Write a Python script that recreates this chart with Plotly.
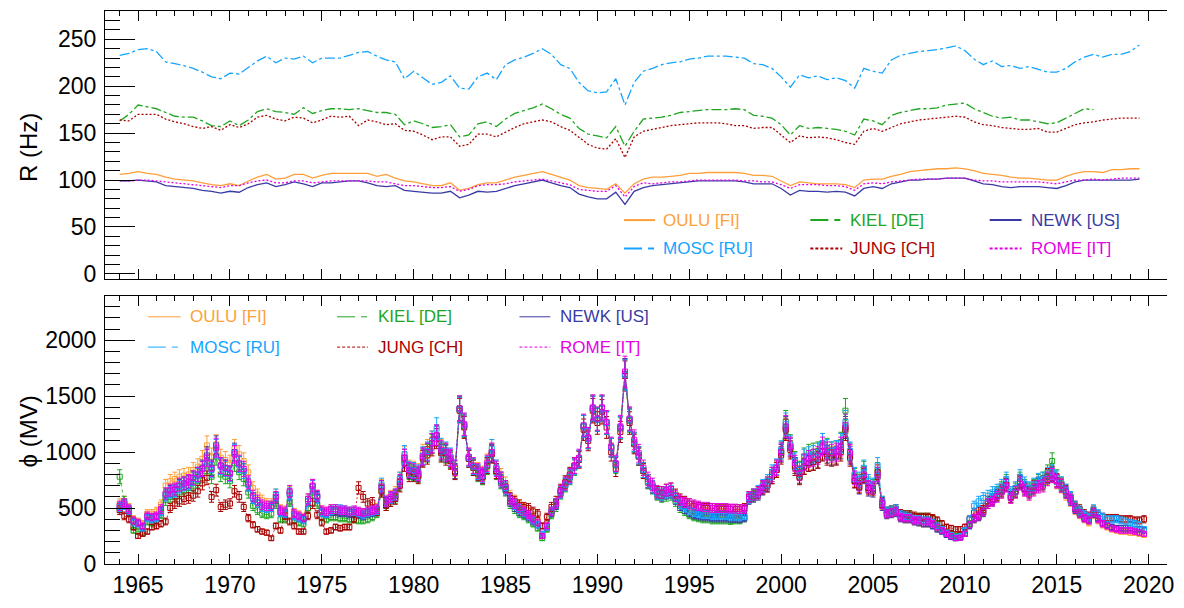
import plotly.graph_objects as go

# ---------------- data ----------------
stations = ["OULU [FI]", "KIEL [DE]", "NEWK [US]", "MOSC [RU]", "JUNG [CH]", "ROME [IT]"]

years_top = [1964 + 0.5 * i for i in range(112)]
years_bot = [1964 + 0.25 * i for i in range(224)]

r_oulu = [106, 107, 109, 107, 106, 103, 101, 100, 99, 97, 95, 94, 96, 94, 99, 103, 106, 101, 102, 106,
          106, 102, 105, 107, 107, 107, 107, 107, 104, 106, 102, 99, 98, 96, 94, 94, 97, 89, 91, 95,
          97, 97, 100, 103, 105, 107, 109, 106, 103, 100, 94, 92, 91, 90, 96, 86, 96, 101, 103, 103,
          104, 105, 107, 107, 108, 108, 108, 108, 107, 105, 105, 104, 99, 94, 98, 97, 96, 96, 96, 95,
          92, 100, 101, 101, 104, 106, 109, 110, 111, 112, 112, 113, 112, 110, 107, 106, 105, 103, 102, 102,
          101, 100, 100, 104, 107, 109, 109, 108, 111, 111, 112, 112]
r_kiel = [163, 170, 180, 178, 176, 172, 168, 167, 167, 163, 158, 157, 163, 158, 164, 173, 176, 173, 172, 170,
          177, 171, 174, 176, 176, 175, 176, 174, 172, 172, 170, 159, 163, 160, 156, 157, 159, 146, 148, 160,
          162, 157, 165, 171, 174, 177, 181, 176, 170, 166, 155, 149, 147, 145, 157, 136, 152, 165, 166, 167,
          169, 172, 173, 174, 175, 175, 175, 176, 175, 169, 168, 166, 159, 148, 158, 155, 156, 155, 154, 152,
          148, 165, 163, 159, 169, 172, 174, 176, 176, 177, 180, 181, 182, 176, 172, 168, 166, 167, 164, 164,
          162, 160, 161, 166, 171, 176, 175]
r_newk = [99, 99, 100, 99, 98, 94, 93, 92, 91, 89, 88, 86, 88, 87, 92, 95, 97, 93, 95, 98,
          96, 93, 97, 97, 98, 99, 99, 97, 94, 93, 94, 89, 88, 87, 86, 86, 88, 81, 84, 88,
          87, 88, 91, 94, 96, 98, 100, 97, 94, 92, 85, 82, 80, 80, 87, 74, 88, 92, 94, 95,
          96, 97, 98, 99, 99, 99, 99, 99, 98, 96, 96, 96, 91, 84, 89, 88, 88, 87, 88, 87,
          83, 91, 93, 91, 96, 98, 100, 100, 101, 101, 102, 102, 102, 99, 96, 95, 93, 92, 93, 93,
          93, 92, 91, 94, 98, 100, 100, 100, 100, 100, 100, 101]
r_mosc = [233, 235, 239, 240, 237, 226, 224, 222, 219, 215, 210, 208, 214, 213, 220, 227, 232, 225, 230, 229,
          232, 225, 230, 230, 230, 233, 236, 237, 232, 228, 226, 208, 216, 209, 202, 204, 211, 198, 197, 210,
          214, 207, 223, 228, 231, 235, 240, 234, 223, 219, 204, 195, 193, 194, 208, 180, 204, 216, 219, 223,
          225, 226, 229, 230, 232, 232, 232, 231, 230, 224, 223, 219, 210, 199, 212, 209, 211, 207, 209, 206,
          198, 219, 216, 214, 228, 233, 235, 237, 238, 239, 241, 243, 238, 229, 223, 227, 221, 222, 219, 221,
          218, 215, 215, 219, 226, 231, 234, 231, 234, 234, 237, 244]
r_jung = [164, 163, 170, 170, 170, 165, 162, 160, 157, 155, 157, 153, 159, 156, 160, 167, 169, 165, 163, 167,
          166, 161, 164, 168, 167, 168, 158, 164, 162, 159, 160, 153, 152, 148, 143, 146, 146, 136, 138, 149,
          149, 146, 151, 156, 160, 162, 164, 162, 157, 153, 145, 138, 134, 133, 144, 124, 146, 152, 154, 156,
          158, 159, 160, 161, 161, 161, 160, 158, 158, 155, 156, 156, 148, 140, 147, 145, 146, 145, 143, 140,
          138, 152, 155, 152, 156, 160, 162, 164, 165, 166, 167, 168, 167, 162, 159, 158, 156, 155, 154, 154,
          155, 151, 151, 155, 159, 161, 162, 164, 165, 166, 166, 166]
r_rome = [99, 99, 100, 100, 99, 98, 97, 96, 95, 94, 93, 92, 94, 94, 97, 99, 100, 97, 97, 99,
          99, 97, 98, 99, 99, 99, 99, 99, 98, 98, 96, 94, 94, 93, 92, 92, 93, 88, 90, 94,
          95, 95, 96, 98, 99, 100, 101, 99, 97, 95, 90, 89, 88, 88, 94, 82, 93, 97, 96, 97,
          98, 98, 99, 100, 100, 100, 100, 100, 99, 99, 98, 98, 95, 91, 95, 95, 95, 94, 94, 93,
          89, 96, 97, 96, 98, 99, 100, 101, 101, 101, 102, 102, 102, 100, 99, 99, 98, 98, 98, 98,
          98, 97, 96, 98, 100, 100, 101, 100, 101, 102, 102, 102]

phi_oulu = [540, 560, 500, 400, 380, 360, 450, 450, 470, 530, 700, 740, 760, 780, 790, 800,
            840, 870, 940, 1060, 960, 1070, 950, 930, 900, 1030, 980, 920, 820, 680, 620, 570,
            540, 540, 620, 490, 480, 640, 460, 440, 420, 580, 700, 610, 480, 470, 490, 490,
            480, 480, 470, 470, 460, 450, 460, 480, 500, 700, 570, 610, 640, 760, 970, 860,
            850, 830, 990, 1030, 1100, 1150, 1030, 1000, 950, 850, 1390, 1240, 950, 880, 840, 810,
            910, 1000, 860, 790, 720, 610, 570, 530, 500, 470, 430, 390, 260, 350, 470, 540,
            650, 720, 790, 870, 940, 1230, 1130, 1390, 1290, 1390, 1260, 1040, 890, 1220, 1700, 1290,
            1090, 970, 840, 740, 690, 630, 620, 640, 650, 590, 550, 520, 500, 490, 480, 470,
            470, 460, 460, 460, 460, 455, 450, 450, 460, 590, 610, 630, 680, 710, 780, 850,
            990, 1210, 1040, 880, 790, 880, 910, 920, 940, 1020, 980, 970, 980, 1030, 1220, 980,
            750, 690, 790, 670, 660, 780, 530, 440, 450, 460, 410, 400, 400, 380, 370, 360,
            360, 350, 320, 300, 270, 250, 240, 240, 270, 350, 400, 420, 460, 540, 570, 610,
            640, 700, 590, 640, 720, 660, 630, 670, 700, 710, 770, 790, 730, 690, 620, 560,
            480, 440, 400, 370, 440, 390, 350, 330, 310, 300, 290, 290, 280, 280, 270, 260]
phi_kiel = [780, 560, 460, 300, 290, 280, 380, 370, 380, 440, 570, 600, 600, 640, 660, 680,
            700, 740, 790, 880, 780, 960, 800, 780, 740, 900, 820, 760, 640, 520, 480, 450,
            440, 450, 540, 400, 400, 560, 390, 370, 360, 500, 640, 540, 420, 400, 420, 420,
            410, 410, 400, 400, 390, 390, 400, 420, 450, 650, 520, 560, 590, 710, 930, 820,
            810, 790, 950, 990, 1070, 1140, 1000, 980, 930, 830, 1380, 1230, 940, 860, 800, 770,
            870, 990, 820, 730, 660, 540, 490, 450, 430, 400, 360, 320, 230, 310, 440, 510,
            630, 700, 770, 860, 940, 1230, 1120, 1390, 1290, 1390, 1260, 1040, 880, 1210, 1690, 1280,
            1080, 960, 830, 730, 680, 620, 600, 610, 620, 560, 500, 470, 440, 420, 410, 400,
            400, 390, 390, 390, 390, 385, 390, 390, 410, 590, 610, 640, 690, 720, 800, 860,
            1010, 1270, 1070, 930, 850, 960, 990, 1000, 1010, 1080, 1040, 1010, 1020, 1090, 1370, 1000,
            790, 740, 850, 720, 700, 840, 560, 470, 480, 490, 450, 440, 440, 420, 420, 420,
            420, 400, 360, 320, 290, 270, 250, 260, 300, 360, 410, 440, 480, 560, 600, 640,
            680, 740, 620, 670, 760, 700, 670, 700, 740, 760, 820, 920, 780, 720, 660, 590,
            510, 470, 430, 410, 470]
phi_newk = [500, 530, 480, 380, 360, 330, 420, 410, 420, 470, 620, 650, 660, 700, 720, 730,
            770, 800, 860, 970, 860, 1060, 880, 860, 810, 1000, 890, 830, 710, 590, 550, 510,
            500, 510, 590, 460, 450, 620, 430, 410, 400, 560, 690, 600, 460, 450, 470, 470,
            460, 460, 450, 450, 440, 430, 450, 460, 470, 690, 550, 590, 610, 730, 950, 830,
            820, 800, 960, 1000, 1080, 1150, 1010, 990, 940, 830, 1390, 1240, 950, 870, 820, 780,
            880, 990, 830, 740, 670, 560, 510, 470, 450, 420, 380, 350, 250, 330, 460, 530,
            640, 710, 780, 870, 940, 1230, 1120, 1390, 1290, 1390, 1260, 1040, 890, 1220, 1700, 1290,
            1090, 970, 840, 740, 690, 630, 610, 630, 640, 580, 520, 490, 460, 440, 430, 420,
            420, 410, 410, 410, 410, 405, 405, 400, 410, 580, 600, 620, 670, 700, 780, 840,
            990, 1220, 1040, 880, 780, 870, 900, 910, 930, 1010, 980, 960, 970, 1020, 1220, 970,
            740, 680, 780, 660, 650, 780, 520, 440, 450, 460, 410, 400, 400, 380, 370, 360,
            360, 340, 310, 290, 260, 240, 230, 235, 270, 340, 400, 420, 460, 540, 570, 610,
            650, 710, 600, 650, 730, 670, 640, 680, 710, 720, 780, 800, 740, 700, 640, 570,
            490, 450, 410, 390, 450, 410, 370, 350, 330, 320, 320, 320, 320, 310, 310, 300]
phi_mosc = [510, 530, 480, 370, 360, 320, 410, 400, 410, 470, 610, 640, 650, 690, 710, 720,
            760, 790, 850, 950, 840, 1030, 870, 850, 800, 990, 890, 830, 710, 590, 550, 510,
            500, 510, 620, 460, 450, 630, 430, 410, 390, 560, 690, 590, 460, 450, 480, 490,
            490, 480, 470, 470, 460, 440, 460, 470, 480, 710, 560, 590, 620, 760, 980, 850,
            840, 820, 970, 1010, 1100, 1210, 1040, 1010, 960, 860, 1380, 1240, 950, 870, 820, 790,
            890, 1030, 860, 760, 680, 580, 530, 490, 460, 430, 390, 350, 270, 330, 470, 540,
            640, 710, 780, 870, 940, 1230, 1120, 1390, 1290, 1390, 1260, 1040, 890, 1220, 1690, 1290,
            1090, 970, 840, 740, 690, 630, 620, 640, 650, 590, 540, 510, 480, 460, 450, 440,
            440, 430, 430, 430, 430, 425, 425, 420, 430, 590, 620, 650, 700, 740, 820, 870,
            1020, 1250, 1060, 920, 840, 950, 970, 980, 1000, 1080, 1030, 1010, 1020, 1080, 1270, 1010,
            800, 760, 860, 740, 710, 880, 560, 470, 480, 490, 440, 430, 420, 400, 400, 390,
            390, 370, 340, 310, 280, 260, 240, 250, 300, 400, 520, 560, 590, 610, 640, 660,
            700, 760, 640, 680, 780, 720, 680, 710, 750, 760, 800, 820, 770, 720, 660, 600,
            520, 480, 440, 420, 490, 450, 420, 400, 400, 400, 390, 380, 370, 360, 350, 310]
phi_jung = [480, 430, 400, 330, 250, 270, 290, 330, 340, 360, 380, 500, 540, 560, 580, 590,
            610, 650, 720, 770, 600, 660, 510, 530, 540, 650, 600, 510, 410, 350, 310, 290,
            280, 230, 340, 300, 430, 380, 340, 290, 290, 430, 540, 440, 370, 290, 300, 330,
            320, 330, 330, 400, 680, 600, 540, 550, 470, 650, 520, 560, 580, 700, 900, 800,
            800, 780, 940, 970, 1050, 1120, 990, 960, 920, 820, 1370, 1220, 940, 860, 810, 780,
            880, 980, 830, 760, 690, 590, 560, 530, 510, 500, 470, 450, 340, 420, 510, 560,
            660, 730, 800, 880, 930, 1200, 1100, 1370, 1260, 1360, 1220, 1000, 850, 1180, 1680, 1260,
            1070, 960, 830, 740, 690, 640, 640, 660, 670, 620, 580, 560, 540, 520, 510, 500,
            500, 500, 490, 490, 490, 490, 490, 490, 500, 600, 620, 640, 680, 700, 780, 840,
            970, 1200, 1020, 860, 770, 870, 900, 910, 930, 1000, 960, 950, 960, 1000, 1200, 950,
            740, 690, 790, 680, 670, 820, 550, 470, 480, 490, 450, 440, 440, 430, 420, 420,
            420, 410, 390, 360, 330, 320, 310, 310, 330, 400, 460, 480, 500, 560, 580, 620,
            660, 710, 600, 650, 740, 680, 650, 690, 720, 730, 790, 810, 750, 710, 650, 600,
            520, 490, 450, 430, 480, 440, 420, 410, 410, 410, 400, 400, 400, 390, 390, 400]
phi_rome = [520, 540, 490, 390, 370, 340, 430, 420, 430, 490, 630, 660, 670, 710, 720, 740,
            770, 800, 850, 950, 850, 1040, 880, 860, 810, 980, 900, 850, 730, 610, 570, 530,
            520, 520, 600, 480, 470, 650, 450, 430, 410, 580, 700, 610, 480, 470, 490, 490,
            480, 480, 470, 480, 470, 460, 470, 480, 490, 690, 560, 600, 620, 740, 950, 840,
            830, 810, 960, 1000, 1080, 1150, 1020, 1000, 950, 860, 1390, 1250, 960, 880, 830, 800,
            900, 1000, 850, 760, 690, 580, 540, 500, 470, 440, 400, 370, 250, 340, 470, 540,
            650, 720, 790, 880, 950, 1240, 1130, 1400, 1300, 1400, 1270, 1050, 900, 1230, 1720, 1300,
            1110, 990, 860, 760, 710, 650, 640, 660, 670, 610, 570, 550, 540, 530, 520, 510,
            510, 500, 500, 500, 500, 495, 495, 490, 490, 600, 620, 640, 690, 720, 800, 860,
            1000, 1230, 1050, 900, 810, 910, 940, 950, 970, 1050, 1010, 990, 1000, 1050, 1240, 990,
            770, 710, 800, 690, 680, 800, 540, 450, 460, 470, 420, 410, 410, 390, 390, 380,
            380, 360, 330, 300, 270, 250, 230, 235, 270, 350, 410, 430, 470, 540, 560, 600,
            640, 700, 590, 640, 720, 660, 620, 660, 690, 700, 760, 790, 740, 700, 640, 580,
            500, 450, 410, 390, 460, 400, 360, 340, 320, 310, 300, 300, 300, 290, 280, 270]

# ---------------- styles ----------------
colors = {"OULU [FI]": "#FF9F3A", "KIEL [DE]": "#1FA51F", "NEWK [US]": "#3A3AA6",
          "MOSC [RU]": "#16A4FF", "JUNG [CH]": "#A80000", "ROME [IT]": "#E400E4"}
dashes = {"OULU [FI]": "solid", "KIEL [DE]": "10px,3px,3px,3px", "NEWK [US]": "solid",
          "MOSC [RU]": "10px,3px,3px,3px", "JUNG [CH]": "2px,2px", "ROME [IT]": "2px,2px"}
legend_dashes = {"OULU [FI]": "solid", "KIEL [DE]": "18px,6px,6px,60px", "NEWK [US]": "solid",
                 "MOSC [RU]": "18px,6px,6px,60px", "JUNG [CH]": "3px,2px", "ROME [IT]": "3px,2px"}

top_data = {"OULU [FI]": r_oulu, "KIEL [DE]": r_kiel, "NEWK [US]": r_newk,
            "MOSC [RU]": r_mosc, "JUNG [CH]": r_jung, "ROME [IT]": r_rome}
bot_data = {"OULU [FI]": phi_oulu, "KIEL [DE]": phi_kiel, "NEWK [US]": phi_newk,
            "JUNG [CH]": phi_jung, "MOSC [RU]": phi_mosc, "ROME [IT]": phi_rome}

fig = go.Figure()

for name, vals in top_data.items():
    fig.add_trace(go.Scatter(x=years_top[:len(vals)], y=vals, mode="lines", name=name,
                             line=dict(color=colors[name], width=1.3, dash=dashes[name]),
                             showlegend=False, xaxis="x", yaxis="y"))

for name, vals in bot_data.items():
    fig.add_trace(go.Scatter(x=years_bot[:len(vals)], y=vals, mode="lines+markers", name=name,
                             line=dict(color=colors[name], width=0.8, dash=dashes[name]),
                             marker=dict(symbol="square-open", size=5, color=colors[name],
                                         line=dict(width=1, color=colors[name])),
                             error_y=dict(type="percent", value=8, color=colors[name],
                                          thickness=1, width=2.5),
                             showlegend=False, xaxis="x2", yaxis="y2"))

# ---------------- layout ----------------
W, H = 1184, 608
L, R, T, B = 105, 13, 10, 32
PW, PH = W - L - R, H - T - B


def px(xp):
    return (xp - L) / PW


def py(yp):
    return (H - B - yp) / PH


top_dom = [py(284), 1.0]
bot_dom = [0.0, py(301.7)]

font_fam = "Liberation Sans, Arial, Helvetica, sans-serif"
xcommon = dict(range=[1963.2, 2021.0], tick0=1965, dtick=5, ticks="inside", ticklen=10,
               tickwidth=1, tickcolor="black", showline=True, linecolor="black", linewidth=1,
               mirror="ticks", showgrid=False, zeroline=False,
               minor=dict(dtick=1, ticks="inside", ticklen=5, tickcolor="black", showgrid=False),
               tickfont=dict(family=font_fam, size=23, color="black"))

ycommon = dict(ticks="inside", ticklen=30, tickwidth=1, tickcolor="black", showline=True,
               linecolor="black", linewidth=1, showgrid=False, zeroline=False,
               ticklabelstandoff=3,
               tickfont=dict(family=font_fam, size=23, color="black"))
yright = dict(ticks="inside", ticklen=17, tickwidth=1, tickcolor="black", showline=True,
              linecolor="black", linewidth=1, showgrid=False, zeroline=False,
              showticklabels=False, side="right")

fig.update_layout(
    width=W, height=H, margin=dict(l=L, r=R, t=T, b=B),
    paper_bgcolor="white", plot_bgcolor="white", showlegend=False,
    xaxis=dict(xcommon, domain=[0, 1], anchor="y", showticklabels=False, matches="x2"),
    xaxis2=dict(xcommon, domain=[0, 1], anchor="y2", showticklabels=True),
    yaxis=dict(ycommon, domain=top_dom, anchor="x", range=[-5.2, 280.2], tick0=0, dtick=50,
               minor=dict(dtick=10, ticks="inside", ticklen=15, tickcolor="black", showgrid=False)),
    yaxis2=dict(ycommon, domain=bot_dom, anchor="x2", range=[0, 2395], tick0=0, dtick=500,
                minor=dict(dtick=100, ticks="inside", ticklen=15, tickcolor="black", showgrid=False)),
    yaxis3=dict(yright, overlaying="y", anchor="x", range=[-5.2, 280.2], tick0=0, dtick=50,
                minor=dict(dtick=10, ticks="inside", ticklen=10, tickcolor="black", showgrid=False)),
    yaxis4=dict(yright, overlaying="y2", anchor="x2", range=[0, 2395], tick0=0, dtick=500,
                minor=dict(dtick=100, ticks="inside", ticklen=10, tickcolor="black", showgrid=False)),
)

annotations = [
    dict(text="R (Hz)", x=px(28), y=py(150), xref="paper", yref="paper", textangle=-90,
         showarrow=False, font=dict(family=font_fam, size=24, color="black"),
         xanchor="center", yanchor="middle"),
    dict(text="ϕ (MV)", x=px(28), y=py(440), xref="paper", yref="paper", textangle=-90,
         showarrow=False, font=dict(family=font_fam, size=24, color="black"),
         xanchor="center", yanchor="middle"),
]
shapes = []

legend_order = ["OULU [FI]", "KIEL [DE]", "NEWK [US]", "MOSC [RU]", "JUNG [CH]", "ROME [IT]"]

# legend geometry (pixels)
top_cols = [(626, 657, 663), (813, 845, 851), (993, 1025, 1032)]
top_rows = [224, 253]
bot_cols = [(148, 181, 188), (338, 369, 377), (521, 552, 560)]
bot_rows = [323, 354]

for rows, cols, lw in ((top_rows, top_cols, 2), (bot_rows, bot_cols, 1)):
    for i, name in enumerate(legend_order):
        r_i, c_i = divmod(i, 3)
        x0, x1, xt = cols[c_i]
        yy = rows[r_i]
        shapes.append(dict(type="line", xref="paper", yref="paper", x0=px(x0), x1=px(x1),
                           y0=py(yy), y1=py(yy),
                           line=dict(color=colors[name], width=lw, dash=legend_dashes[name])))
        annotations.append(dict(text=name, x=px(xt), y=py(yy), xref="paper", yref="paper",
                                showarrow=False, xanchor="left", yanchor="middle",
                                font=dict(family=font_fam, size=17, color=colors[name])))

fig.update_layout(annotations=annotations, shapes=shapes)
fig.write_html("out.html")
